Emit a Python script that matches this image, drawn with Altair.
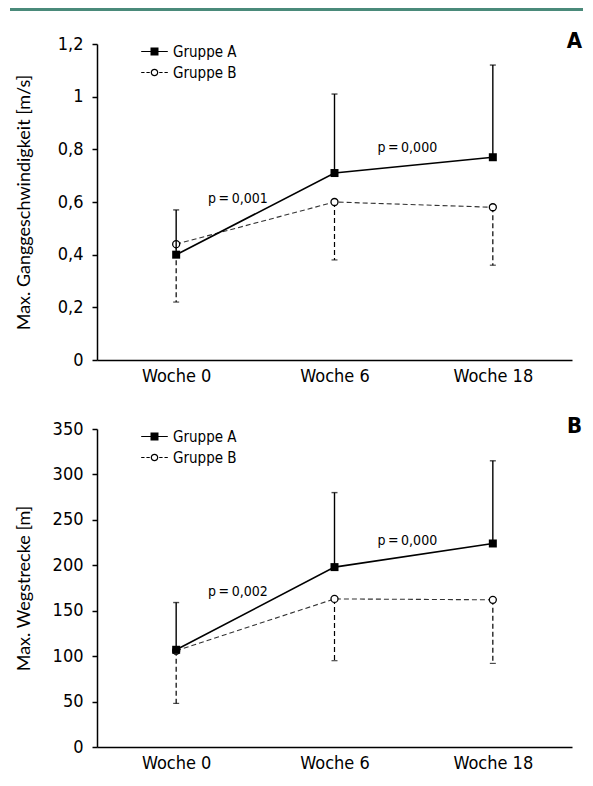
import altair as alt
import pandas as pd

# ---------------- data ----------------
weeks = ["Woche 0", "Woche 6", "Woche 18"]
week_pos = [0, 1, 2]
groups = ["Gruppe A", "Gruppe B"]

speed_a = [0.40, 0.71, 0.77]
speed_a_top = [0.57, 1.01, 1.12]
speed_b = [0.44, 0.60, 0.58]
speed_b_bot = [0.22, 0.38, 0.36]

dist_a = [107, 198, 224]
dist_a_top = [159, 280, 315]
dist_b = [106, 163, 162]
dist_b_bot = [48, 95, 92]

p_speed_text = ["p\u2009=\u20090,001", "p\u2009=\u20090,000"]
p_speed_x = [0.39, 1.46]
p_speed_y = [0.61, 0.805]
p_dist_text = ["p\u2009=\u20090,002", "p\u2009=\u20090,000"]
p_dist_x = [0.39, 1.46]
p_dist_y = [171, 227]

# ---------------- style ----------------
FONT = "DejaVu Sans Condensed, Liberation Sans Narrow, Roboto, sans-serif"
TITLE_FONT = "Lato, Carlito, Liberation Sans, sans-serif"
W = 475
RIGHT = 486

# legend glyphs drawn as filled outlines (line + marker)
PATH_A = "M-1.4,-0.05H1.4V0.05H-1.4Z M-0.42,-0.42H0.42V0.42H-0.42Z"
PATH_B = ("M-1.4,-0.05H-1.05V0.05H-1.4Z M-0.85,-0.05H-0.5V0.05H-0.85Z "
          "M0.5,-0.05H0.85V0.05H0.5Z M1.05,-0.05H1.4V0.05H1.05Z "
          "M-0.4,0A0.4,0.4 0 1,1 0.4,0A0.4,0.4 0 1,1 -0.4,0Z "
          "M-0.27,0A0.27,0.27 0 1,0 0.27,0A0.27,0.27 0 1,0 -0.27,0Z")


def one_row():
    return pd.DataFrame({"k": [0]})


def panel(a, a_top, b, b_bot, ymax, ystep, ytitle, p_text, p_x, p_y, letter, height, top_line=False):
    df = pd.DataFrame({"pos": week_pos, "week": weeks, "a": a, "a_top": a_top,
                       "b": b, "b_bot": b_bot})
    x_scale = alt.Scale(domain=[-0.5, 2.5], nice=False, zero=False)
    x_axis = alt.Axis(values=week_pos, labelExpr=f"{weeks}[datum.value]", ticks=False,
                      grid=False, title=None, labelPadding=7, domainColor="black",
                      domainWidth=1.5, labelFont=FONT, labelFontSize=18, labelColor="black")
    nvals = int(round(ymax / ystep)) + 1
    y_vals = [round(i * ystep, 4) for i in range(nvals)]
    y_scale = alt.Scale(domain=[0, ymax], nice=False, zero=True)
    y_axis = alt.Axis(values=y_vals, grid=False, title=ytitle,
                      labelExpr="replace(format(datum.value, '.2~f'), '.', ',')",
                      tickSize=5, tickWidth=1.5, tickColor="black", domainColor="black",
                      domainWidth=1.5, labelPadding=9, labelFont=FONT, labelFontSize=18,
                      labelColor="black", titleFont=TITLE_FONT, titleFontSize=18,
                      titleFontWeight="normal", titleColor="black", titleX=-73,
                      titleBaseline="middle")

    def X():
        return alt.X("pos:Q", scale=x_scale, axis=x_axis)

    def Y(f):
        return alt.Y(f"{f}:Q", scale=y_scale, axis=y_axis)

    base = alt.Chart(df)
    layers = []
    if top_line:
        layers.append(alt.Chart(one_row()).mark_rule(color="#4a8a7a", strokeWidth=3).encode(
            x=alt.value(-87), x2=alt.value(RIGHT), y=alt.value(-34.5)))

    # Gruppe B (dashed, lower error bars)
    layers.append(base.mark_rule(color="black", strokeWidth=1.2, strokeDash=[5, 3]).encode(
        x=X(), y=Y("b"), y2="b_bot"))
    layers.append(base.mark_tick(orient="horizontal", size=6, thickness=1.2, color="black").encode(
        x=X(), y=Y("b_bot")))
    layers.append(base.mark_line(color="#333333", strokeWidth=1.1, strokeDash=[5, 3]).encode(
        x=X(), y=Y("b")))
    layers.append(base.mark_point(shape="circle", size=49, filled=False, fill="white",
                                  stroke="black", strokeWidth=1.3, opacity=1).encode(
        x=X(), y=Y("b")))
    # Gruppe A (solid, upper error bars)
    layers.append(base.mark_line(color="black", strokeWidth=1.6).encode(x=X(), y=Y("a")))
    layers.append(base.mark_rule(color="black", strokeWidth=1.4).encode(
        x=X(), y=Y("a"), y2="a_top"))
    layers.append(base.mark_tick(orient="horizontal", size=6, thickness=1.4, color="black").encode(
        x=X(), y=Y("a_top")))
    layers.append(base.mark_point(shape="square", size=64, filled=True, color="black",
                                  opacity=1).encode(x=X(), y=Y("a")))

    # p-value annotations
    pdf = pd.DataFrame({"x": p_x, "y": p_y, "t": p_text})
    layers.append(alt.Chart(pdf).mark_text(font=FONT, fontSize=14, color="black").encode(
        x=alt.X("x:Q", scale=x_scale, axis=x_axis),
        y=alt.Y("y:Q", scale=y_scale, axis=y_axis), text="t:N"))

    # panel letter
    layers.append(alt.Chart(one_row()).mark_text(
        font=FONT, fontSize=22, fontWeight="bold", align="right", baseline="middle",
        color="black").encode(x=alt.value(RIGHT - 1), y=alt.value(-3), text=alt.value(letter)))

    # legend (empty layer, legend only)
    leg = alt.Legend(title=None, orient="none", legendX=48, legendY=-2, symbolSize=361,
                     labelFont=FONT, labelFontSize=15, labelColor="black", labelOffset=9,
                     rowPadding=3, padding=0, symbolFillColor="black",
                     symbolStrokeWidth=0)
    ldf = pd.DataFrame({"grp": groups})
    layers.append(alt.Chart(ldf).transform_filter("false").mark_point(
        filled=True, color="black", opacity=1).encode(
        shape=alt.Shape("grp:N", scale=alt.Scale(domain=groups, range=[PATH_A, PATH_B]),
                        legend=leg)))

    return alt.layer(*layers).properties(width=W, height=height)


pA = panel(speed_a, speed_a_top, speed_b, speed_b_bot, 1.2, 0.2,
           "Max. Ganggeschwindigkeit [m/s]", p_speed_text, p_speed_x, p_speed_y, "A", 316,
           top_line=True)
pB = panel(dist_a, dist_a_top, dist_b, dist_b_bot, 350, 50,
           "Max. Wegstrecke [m]", p_dist_text, p_dist_x, p_dist_y, "B", 318)

chart = alt.vconcat(pA, pB, spacing=30).resolve_scale(
    shape="independent").resolve_legend(shape="independent").properties(
    padding={"left": 0, "top": 0, "right": 0, "bottom": 0},
    background="white").configure_view(stroke=None)

chart.save("out.html", embed_options={"renderer": "svg", "actions": False})
